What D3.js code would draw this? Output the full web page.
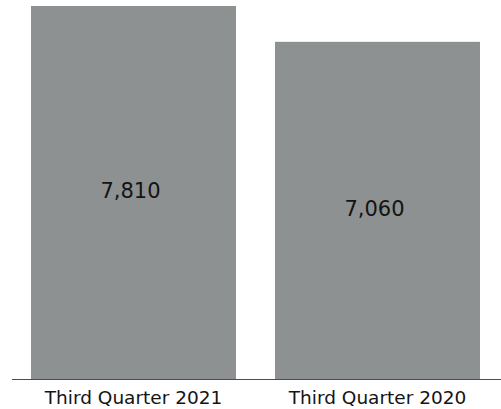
<!DOCTYPE html>
<html><head><meta charset="utf-8">
<script src="https://cdn.jsdelivr.net/npm/d3@7"></script>
<style>html,body{margin:0;padding:0;background:#fff;}</style>
</head><body>
<svg id="chart" width="501" height="409"></svg>
<script>
const categories = ["Third Quarter 2021", "Third Quarter 2020"];
const values = [7810, 7060];
const valueLabels = ["7,810", "7,060"];

const svg = d3.select("#chart");
const x = d3.scaleBand().domain(categories).range([11.5, 499.5]).paddingInner(0.16).paddingOuter(0.08);
const y = d3.scaleLinear().domain([0, 7810]).range([379, 6]);

const data = categories.map((c, i) => ({c, v: values[i], l: valueLabels[i]}));

svg.selectAll("rect.bar").data(data).enter().append("rect")
  .attr("class", "bar")
  .attr("x", d => x(d.c))
  .attr("width", x.bandwidth())
  .attr("y", d => y(d.v))
  .attr("height", d => y(0) - y(d.v))
  .attr("fill", "#8e9192");

svg.selectAll("text.val").data(data).enter().append("text")
  .attr("class", "val")
  .attr("x", d => x(d.c) + x.bandwidth() / 2 - 3)
  .attr("y", d => (y(d.v) + y(0)) / 2 + 5.5)
  .attr("text-anchor", "middle")
  .attr("font-family", "DejaVu Sans")
  .attr("font-size", 21)
  .attr("fill", "#141414")
  .text(d => d.l);

const axis = d3.axisBottom(x).tickSize(0).tickPadding(0);
const g = svg.append("g").attr("transform", `translate(0,${y(0) + 0.5})`).call(axis);
g.select(".domain").remove();
g.append("line").attr("x1", 12).attr("x2", 501).attr("y1", 0).attr("y2", 0)
  .attr("stroke", "#4d4d4d").attr("stroke-width", 1);
g.selectAll(".tick text")
  .attr("font-family", "DejaVu Sans")
  .attr("font-size", 18.5)
  .attr("fill", "#141414")
  .attr("dy", null)
  .attr("y", 24.8);
</script>
</body></html>
